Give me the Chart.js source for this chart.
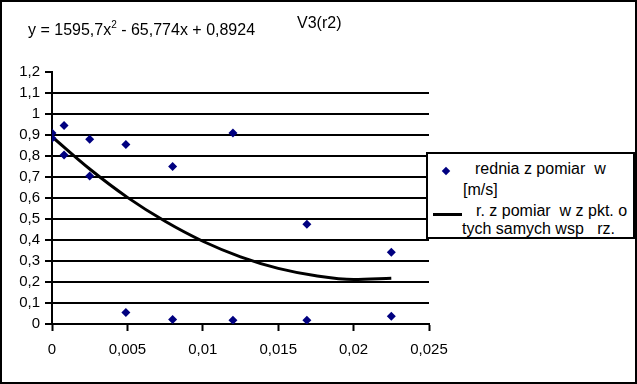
<!DOCTYPE html>
<html>
<head>
<meta charset="utf-8">
<script src="https://cdn.jsdelivr.net/npm/chart.js@4/dist/chart.umd.min.js"></script>
<style>
  html, body { margin: 0; padding: 0; background: #fff; }
  #wrap { position: relative; width: 637px; height: 384px; overflow: hidden; font-family: "Liberation Sans", Arial, sans-serif; color: #000; }
  #c { position: absolute; left: 0; top: 0; }
  #frame { position: absolute; left: 0; top: 0; width: 637px; height: 384px; box-sizing: border-box; border: 2px solid #000; pointer-events: none; }
  .txt { position: absolute; white-space: pre; line-height: 1; }
  #eq { left: 28px; top: 22px; font-size: 16px; }
  #eq sup { font-size: 10px; position: relative; top: -2px; vertical-align: top; }
  #title { left: 297px; top: 15px; font-size: 16px; }
  #legend { position: absolute; left: 426px; top: 152px; width: 209px; height: 87px; box-sizing: border-box; border: 2px solid #000; background: #fff; }
  .lt { position: absolute; white-space: pre; font-size: 16px; line-height: 1; }
  #mk { position: absolute; left: 15px; top: 14px; width: 6px; height: 6px; background: #000080; transform: rotate(45deg); }
  #ln { position: absolute; left: 5px; top: 59px; width: 29px; height: 3px; background: #000; }
</style>
</head>
<body>
<div id="wrap">
  <canvas id="c" width="637" height="384"></canvas>
  <div class="txt" id="eq"></div>
  <div class="txt" id="title"></div>
  <div id="legend">
    <div id="mk"></div>
    <div id="ln"></div>
    <div class="lt" id="l1" style="left:47px;top:7px"></div>
    <div class="lt" id="l2" style="left:35px;top:28px"></div>
    <div class="lt" id="l3" style="left:48px;top:49px"></div>
    <div class="lt" id="l4" style="left:34px;top:67px"></div>
  </div>
  <div id="frame"></div>
</div>
<script>
// ---- data ----
const xMeasured = [0, 0, 0.0008, 0.0008, 0.0025, 0.0025, 0.0049, 0.0049, 0.008, 0.008, 0.012, 0.012, 0.0169, 0.0169, 0.0225, 0.0225];
const yMeasured = [0.91, 0.885, 0.945, 0.805, 0.88, 0.705, 0.855, 0.055, 0.75, 0.022, 0.91, 0.018, 0.475, 0.018, 0.342, 0.037];
const xTrend = [0, 0.0025, 0.005, 0.0075, 0.01, 0.0125, 0.015, 0.0175, 0.02, 0.0225];
const yTrend = [0.892, 0.738, 0.603, 0.489, 0.394, 0.32, 0.265, 0.23, 0.212, 0.218];
const xTickLabels = ['0', '0,005', '0,01', '0,015', '0,02', '0,025'];
const yTickLabels = ['0', '0,1', '0,2', '0,3', '0,4', '0,5', '0,6', '0,7', '0,8', '0,9', '1', '1,1', '1,2'];
const seriesNames = ['rednia z pomiar  w [m/s]', 'r. z pomiar  w z pkt. o tych samych wsp   rz.'];
const equationText = ['y = 1595,7x', '2', ' - 65,774x + 0,8924'];
const titleText = 'V3(r2)';
const legendLines = ['rednia z pomiar  w', '[m/s]', 'r. z pomiar  w z pkt. o', 'tych samych wsp   rz.'];

// ---- texts ----
const eq = document.getElementById('eq');
eq.appendChild(document.createTextNode(equationText[0]));
const sup = document.createElement('sup'); sup.textContent = equationText[1]; eq.appendChild(sup);
eq.appendChild(document.createTextNode(equationText[2]));
document.getElementById('title').textContent = titleText;
['l1','l2','l3','l4'].forEach((id, i) => document.getElementById(id).textContent = legendLines[i]);

const FONT = { family: '"Liberation Sans", Arial, sans-serif', size: 15 };

new Chart(document.getElementById('c'), {
  type: 'scatter',
  data: {
    datasets: [
      {
        label: seriesNames[0],
        data: xMeasured.map((x, i) => ({ x, y: yMeasured[i] })),
        pointStyle: 'rectRot',
        pointRadius: 4.5,
        backgroundColor: '#000080',
        borderColor: '#000080',
        borderWidth: 0,
        order: 1
      },
      {
        label: seriesNames[1],
        type: 'line',
        data: xTrend.map((x, i) => ({ x, y: yTrend[i] })),
        borderColor: '#000',
        borderWidth: 3,
        pointRadius: 0,
        fill: false,
        cubicInterpolationMode: 'monotone',
        order: 2
      }
    ]
  },
  options: {
    responsive: false,
    animation: false,
    devicePixelRatio: 1,
    layout: { padding: { left: 0, right: 208, top: 72, bottom: 0 } },
    plugins: { legend: { display: false }, tooltip: { enabled: false }, title: { display: false } },
    scales: {
      x: {
        type: 'linear', min: 0, max: 0.025,
        afterFit: s => { s.height = 60; },
        afterBuildTicks: s => { s.ticks = xTickLabels.map((_, i) => ({ value: i * 0.005 })); },
        ticks: {
          color: '#000', font: FONT, padding: 10, maxRotation: 0, autoSkip: false,
          callback: (v, i) => xTickLabels[i]
        },
        grid: { drawOnChartArea: false, drawTicks: true, tickLength: 7, tickColor: '#000', tickWidth: 2 },
        border: { color: '#000', width: 2 }
      },
      y: {
        type: 'linear', min: 0, max: 1.2,
        afterFit: s => { s.width = 52; },
        afterBuildTicks: s => { s.ticks = yTickLabels.map((_, i) => ({ value: i / 10 })); },
        ticks: {
          color: '#000', font: FONT, padding: 5, autoSkip: false,
          callback: (v, i) => yTickLabels[i]
        },
        grid: {
          color: c => (c.tick && c.tick.value > 1.15) ? 'rgba(0,0,0,0)' : '#000',
          lineWidth: 2, drawTicks: true, tickLength: 7, tickColor: '#000', tickWidth: 2
        },
        border: { color: '#000', width: 2 }
      }
    }
  }
});
</script>
</body>
</html>
